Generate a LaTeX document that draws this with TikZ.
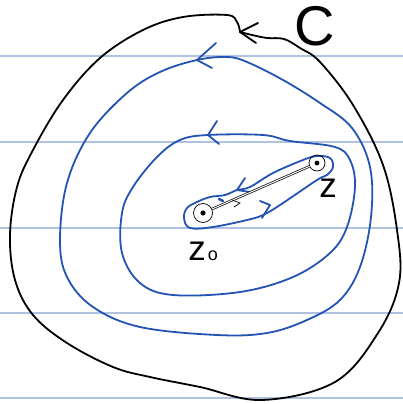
\documentclass[tikz,border=0pt]{standalone}
\usepackage{fontspec}
\setmainfont{Liberation Sans}
\usetikzlibrary{calc}
\definecolor{pen}{HTML}{2353B3}
\definecolor{rule}{HTML}{AFC2E2}
\tikzset{
  ruleline/.style={rule, line width=1.2pt},
  blackpen/.style={black, line width=1.8pt, line cap=round, line join=round},
  bluepen/.style={pen, line width=1.8pt, line cap=round, line join=round},
  thinpen/.style={black, line width=0.7pt},
  lbl/.style={inner sep=0pt, font=\fontsize{35}{35}\selectfont}
}
\begin{document}
\begin{tikzpicture}[x=1pt,y=-1pt]
\useasboundingbox (0,0) rectangle (403,404);
\fill[white] (0,0) rectangle (403,404);
% ruled lines
\foreach \yy in {56,142,228,313,398} \draw[ruleline] (0,\yy) -- (403,\yy);
% outer contour C
\draw[blackpen] plot[smooth, tension=0.6] coordinates {(240,32) (252,35) (267,38) (284,39) (300,48) (320,62) (353,105) (383,165) (397,230) (399,283) (378,333) (335,382) (262,400) (200,387) (150,377) (113,367) (67,343) (33,315) (15,280) (10,235) (17,187) (33,150) (63,100) (100,58) (143,30) (183,17) (227,15) (237,22) (240,32)};
\draw[blackpen] (258,23) -- (240,32) -- (256,43);
\node[lbl, font=\fontsize{56}{56}\selectfont] (C) at (315,26) {C};
% middle blue contour
\draw[bluepen] plot[smooth cycle, tension=0.6] coordinates {(197,60) (160,72) (127,93) (90,133) (67,183) (60,240) (67,277) (93,307) (140,327) (217,335) (267,333) (307,320) (340,300) (360,267) (371,217) (370,167) (352,128) (320,103) (283,80) (247,62) (227,57)};
\draw[bluepen] (216,43) -- (197,60) -- (212,68);
% inner blue contour
\draw[bluepen] plot[smooth cycle, tension=0.6] coordinates {(208,135) (263,135) (290,141) (335,147) (350,160) (355,187) (347,227) (330,253) (293,277) (240,292) (173,295) (140,283) (122,253) (122,213) (133,187) (157,157) (180,140)};
\draw[bluepen] (217,121) -- (208,135) -- (219,144);
% keyhole contour
\draw[bluepen] plot[smooth cycle, tension=0.6] coordinates {(187,208) (197,202) (210,197) (225,195) (237,190) (250,187) (273,173) (303,160) (317,156) (330,158) (333,167) (327,175) (317,180) (280,205) (263,215) (247,220) (213,227) (190,228) (184,218)};
\draw[bluepen] (245,178) -- (237,190) -- (250,192);
\draw[bluepen] (260,201) -- (270,205) -- (262,218);
\draw[bluepen, line width=2.6pt] (219,199) -- (223,201);
% points
\coordinate (z0) at (203,213);
\coordinate (z) at (317,163);
\draw[thinpen] (z0) circle[radius=9.5];
\draw[thinpen] (z) circle[radius=8];
\fill (z0) circle[radius=2.6];
\fill (z) circle[radius=2.4];
\draw[thinpen, double, double distance=1pt] ($(z0)!9.5pt!(z)$) -- ($(z)!8pt!(z0)$);
\draw[thinpen] (232,200) -- (240,203) -- (234,207);
% labels
\node[lbl] (zl) at (328,188) {z};
\node[lbl] (z0l) at (197,251) {z};
\node[inner sep=0pt, font=\fontsize{18}{18}\selectfont] (sub) at (213,256) {o};
\end{tikzpicture}
\end{document}
